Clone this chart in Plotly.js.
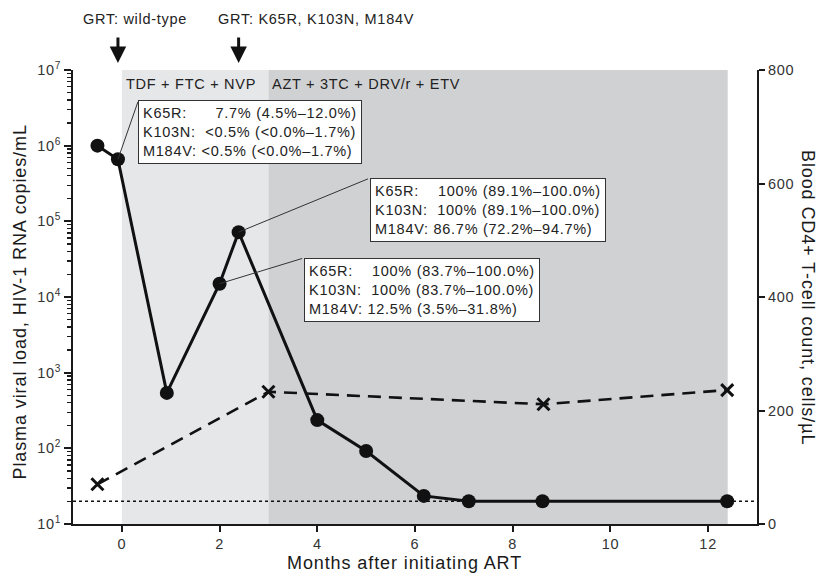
<!DOCTYPE html>
<html>
<head>
<meta charset="utf-8">
<script src="https://cdn.plot.ly/plotly-3.0.1.min.js"></script>
<style>
  html, body { margin: 0; padding: 0; background: #fff; }
  #chart { width: 825px; height: 577px; }
  svg text { letter-spacing: 0.05em; }
</style>
</head>
<body>
<div id="chart"></div>
<script>
// ---------------- data ----------------
const months_vl   = [-0.5, -0.08, 0.92, 2.0, 2.39, 4.0, 5.0, 6.18, 7.1, 8.61, 12.39];
const viral_load  = [1.0e6, 6.6e5, 540, 1.5e4, 7.2e4, 236, 92, 23.5, 20, 20, 20];
const months_cd4  = [-0.5, 3.0, 8.63, 12.39];
const cd4_count   = [70, 233, 211, 236];
const detection_limit = 20;

const regimen_names = ['TDF + FTC + NVP', 'AZT + 3TC + DRV/r + ETV'];
const regimen_start = [0, 3];
const regimen_end   = [3, 12.4];

const grt_months = [-0.08, 2.39];
const grt_labels = ['GRT: wild-type', 'GRT: K65R, K103N, M184V'];

const month_ticks = [0, 2, 4, 6, 8, 10, 12];
const vl_tick_exp = [1, 2, 3, 4, 5, 6, 7];
const cd4_ticks   = [0, 200, 400, 600, 800];

const NB = '\u00A0';
const box_point_index = [1, 4, 3];
const box_lines = [
  ['K65R:' + NB.repeat(6) + '7.7% (4.5%–12.0%)',
   'K103N:' + NB.repeat(2) + '&lt;0.5% (&lt;0.0%–1.7%)',
   'M184V: &lt;0.5% (&lt;0.0%–1.7%)'],
  ['K65R:' + NB.repeat(4) + '100% (89.1%–100.0%)',
   'K103N:' + NB.repeat(2) + '100% (89.1%–100.0%)',
   'M184V: 86.7% (72.2%–94.7%)'],
  ['K65R:' + NB.repeat(4) + '100% (83.7%–100.0%)',
   'K103N:' + NB.repeat(2) + '100% (83.7%–100.0%)',
   'M184V: 12.5% (3.5%–31.8%)']
];

// ---------------- layout positions / styles ----------------
const box_corner_x    = [0.34, 5.07, 3.72];   // months
const box_corner_logy = [6.60, 5.57, 4.515];  // log10 copies/mL
const grt_label_x     = [0.27, 3.98];         // months
const FONT = '"Liberation Sans", Arial, Helvetica, sans-serif';
const INK = '#1a1a1a';
const region_colors = ['#e6e7e9', '#d0d1d3'];

const vlTickVals = vl_tick_exp.map(e => Math.pow(10, e));
const vlTickText = vl_tick_exp.map(e => '10<sup>' + e + '</sup>');
const minorVals = [];
vl_tick_exp.slice(0, -1).forEach(e => { for (let m = 2; m <= 9; m++) minorVals.push(m * Math.pow(10, e)); });

const traces = [
  {
    x: months_vl, y: viral_load, type: 'scatter', mode: 'lines+markers',
    xaxis: 'x', yaxis: 'y',
    line: { color: '#111', width: 3 },
    marker: { symbol: 'circle', size: 14, color: '#111' },
    hoverinfo: 'skip', showlegend: false
  },
  {
    x: months_cd4, y: cd4_count, type: 'scatter', mode: 'lines+markers',
    xaxis: 'x', yaxis: 'y2',
    line: { color: '#111', width: 2.6, dash: '13px,8px' },
    marker: { symbol: 'x-thin', size: 12, color: '#111', line: { color: '#111', width: 3 } },
    hoverinfo: 'skip', showlegend: false
  }
];

const shapes = [];
regimen_start.forEach((s, i) => {
  shapes.push({ type: 'rect', xref: 'x', yref: 'paper', x0: s, x1: regimen_end[i], y0: 0, y1: 1,
    fillcolor: region_colors[i], line: { width: 0 }, layer: 'below' });
});
shapes.push({ type: 'line', xref: 'paper', yref: 'y', x0: 0, x1: 1, y0: detection_limit, y1: detection_limit,
  line: { color: '#111', width: 1.6, dash: '3px,3px' }, layer: 'below' });

const annotations = [];
// regimen labels
regimen_names.forEach((name, i) => {
  annotations.push({ x: regimen_start[i], xref: 'x', y: 0.969, yref: 'paper', xanchor: 'left', yanchor: 'middle',
    xshift: 2, text: name, showarrow: false, font: { family: FONT, size: 14.5, color: '#222' } });
});
// GRT arrows and labels
grt_months.forEach((m, i) => {
  annotations.push({ x: m, xref: 'x', y: 1.0154, yref: 'paper', ax: 0, ay: -27, text: '',
    showarrow: true, arrowhead: 2, arrowsize: 1.1, arrowwidth: 3, arrowcolor: '#111' });
  annotations.push({ x: grt_label_x[i], xref: 'x', y: 1.112, yref: 'paper', xanchor: 'center', yanchor: 'middle',
    text: grt_labels[i], showarrow: false, font: { family: FONT, size: 14.5, color: '#222' } });
});
// mutation boxes with leader lines
box_point_index.forEach((pi, i) => {
  annotations.push({ x: months_vl[pi], y: Math.log10(viral_load[pi]), xref: 'x', yref: 'y',
    ax: box_corner_x[i], ay: box_corner_logy[i], axref: 'x', ayref: 'y',
    text: '', showarrow: true, arrowhead: 0, arrowwidth: 1, arrowcolor: '#333', standoff: 0 });
  annotations.push({ x: box_corner_x[i], y: box_corner_logy[i], xref: 'x', yref: 'y',
    xanchor: 'left', yanchor: 'top', align: 'left', showarrow: false,
    text: box_lines[i].join('<br>'), bgcolor: '#ffffff', bordercolor: '#333', borderwidth: 1, borderpad: 4,
    font: { family: FONT, size: 14.5, color: '#222' } });
});
// axis titles
annotations.push({ x: -0.0775, y: 0.49, xref: 'paper', yref: 'paper', xanchor: 'center', yanchor: 'middle',
  textangle: -90, showarrow: false, text: 'Plasma viral load, HIV-1 RNA copies/mL',
  font: { family: FONT, size: 18, color: INK } });
annotations.push({ x: 1.0746, y: 0.5, xref: 'paper', yref: 'paper', xanchor: 'center', yanchor: 'middle',
  textangle: 90, showarrow: false, text: 'Blood CD4+ T-cell count, cells/µL',
  font: { family: FONT, size: 18, color: INK } });
annotations.push({ x: 0.484, y: -0.087, xref: 'paper', yref: 'paper', xanchor: 'center', yanchor: 'middle',
  showarrow: false, text: 'Months after initiating ART',
  font: { family: FONT, size: 18, color: INK } });

const layout = {
  width: 825, height: 577,
  margin: { l: 73, r: 68, t: 70, b: 53 },
  paper_bgcolor: '#fff', plot_bgcolor: '#fff',
  font: { family: FONT, size: 14, color: '#333' },
  showlegend: false, hovermode: false,
  xaxis: {
    range: [-1, 13], tickmode: 'array', tickvals: month_ticks,
    ticks: 'outside', ticklen: 6, tickwidth: 2, tickcolor: INK,
    showline: true, linewidth: 2, linecolor: INK, showgrid: false, zeroline: false,
    tickfont: { family: FONT, size: 14.5, color: '#333' }
  },
  yaxis: {
    type: 'log', range: [1, 7], tickmode: 'array', tickvals: vlTickVals, ticktext: vlTickText,
    ticks: 'outside', ticklen: 7, tickwidth: 2, tickcolor: INK,
    minor: { tickmode: 'array', tickvals: minorVals, ticks: 'outside', ticklen: 4, tickwidth: 1.3, tickcolor: INK, showgrid: false },
    showline: true, linewidth: 2, linecolor: INK, showgrid: false, zeroline: false,
    tickfont: { family: FONT, size: 14.5, color: '#333' }
  },
  yaxis2: {
    overlaying: 'y', side: 'right', range: [0, 800], tickmode: 'array', tickvals: cd4_ticks,
    ticks: 'outside', ticklen: 6, tickwidth: 2, tickcolor: INK,
    showline: true, linewidth: 2, linecolor: INK, showgrid: false, zeroline: false,
    tickfont: { family: FONT, size: 14.5, color: '#333' }
  },
  shapes: shapes,
  annotations: annotations
};

Plotly.newPlot('chart', traces, layout, { displayModeBar: false, staticPlot: true });
</script>
</body>
</html>
